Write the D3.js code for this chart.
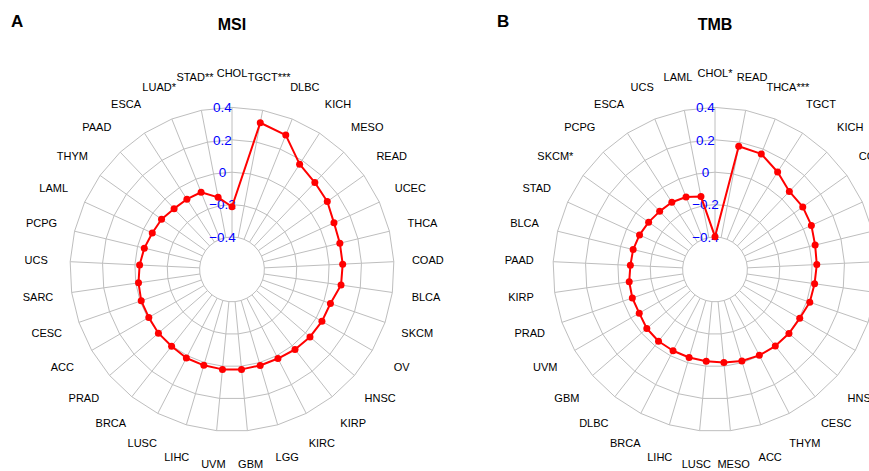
<!DOCTYPE html>
<html>
<head>
<meta charset="utf-8">
<script src="https://cdn.jsdelivr.net/npm/d3@7"></script>
<style>
  html, body { margin: 0; padding: 0; background: #fff; }
  svg { display: block; font-family: "Liberation Sans", Arial, Helvetica, sans-serif; }
</style>
</head>
<body>
<svg id="chart" width="869" height="471"></svg>
<script>
// Correlation of gene expression with MSI and TMB across TCGA cancer types
const msiCategories = ["CHOL", "TGCT***", "DLBC", "KICH", "MESO", "READ", "UCEC", "THCA", "COAD",
  "BLCA", "SKCM", "OV", "HNSC", "KIRP", "KIRC", "LGG", "GBM", "UVM", "LIHC", "LUSC", "BRCA",
  "PRAD", "ACC", "CESC", "SARC", "UCS", "PCPG", "LAML", "THYM", "PAAD", "ESCA", "LUAD*", "STAD**"];
const msiValues = [-0.213, 0.322, 0.293, 0.172, 0.141, 0.122, 0.092, 0.085, 0.084,
  0.080, 0.043, 0.041, 0.037, 0.029, 0.019, 0.018, 0.020, 0.020, 0.017, 0.015, 0.003,
  0.001, -0.007, -0.007, -0.017, -0.029, -0.043, -0.059, -0.066, -0.082, -0.085, -0.087, -0.147];

const tmbCategories = ["CHOL*", "READ", "THCA***", "TGCT", "KICH", "COAD", "UCEC", "LUAD",
  "SARC", "OV", "LGG", "KIRC", "HNSC", "CESC", "THYM", "ACC", "MESO", "LUSC", "LIHC", "BRCA",
  "DLBC", "GBM", "UVM", "PRAD", "KIRP", "PAAD", "BLCA", "STAD", "SKCM*", "PCPG", "ESCA", "UCS", "LAML"];
const tmbValues = [-0.398, 0.174, 0.168, 0.115, 0.065, 0.065, 0.054, 0.036,
  0.029, 0.021, 0.019, 0.004, 0.004, 0.002, -0.003, -0.011, -0.022, -0.031, -0.033, -0.035,
  -0.036, -0.043, -0.060, -0.060, -0.065, -0.077, -0.080, -0.088, -0.097, -0.105, -0.107, -0.119, -0.142];

const tickValues = [-0.4, -0.2, 0, 0.2, 0.4];
const tickLabels = ["\u22120.4", "\u22120.2", "0", "0.2", "0.4"];

const panels = [
  { letter: "A", title: "MSI", cats: msiCategories, vals: msiValues, cx: 232, letterX: 11 },
  { letter: "B", title: "TMB", cats: tmbCategories, vals: tmbValues, cx: 715, letterX: 497 }
];

const svg = d3.select("#chart");
const cy = 269.4;
const outerR = 162;
const labelR = 196;

// radial value scale: the innermost ring (-0.4) sits a step away from the centre
const rScale = d3.scaleLinear().domain([-0.6, 0.4]).range([0, outerR]);

panels.forEach(p => {
  const n = p.cats.length;
  const aScale = d3.scaleLinear().domain([0, n]).range([0, 2 * Math.PI]);
  const pt = (i, r) => [Math.sin(aScale(i)) * r, -Math.cos(aScale(i)) * r];

  const g = svg.append("g").attr("transform", `translate(${p.cx},${cy})`);

  // panel letter and title
  svg.append("text").attr("x", p.letterX).attr("y", 27)
    .attr("font-size", 17).attr("font-weight", "bold").text(p.letter);
  svg.append("text").attr("x", p.cx).attr("y", 29.5).attr("text-anchor", "middle")
    .attr("font-size", 16).attr("font-weight", "bold").text(p.title);

  // polygonal grid rings
  const ringLine = d3.lineRadial().angle((d, i) => aScale(i)).curve(d3.curveLinearClosed);
  g.selectAll("path.ring").data(tickValues).join("path")
    .attr("class", "ring")
    .attr("d", v => ringLine.radius(rScale(v))(d3.range(n)))
    .attr("fill", "none").attr("stroke", "#bebebe").attr("stroke-width", 1);

  // spokes
  g.selectAll("line.spoke").data(d3.range(n)).join("line")
    .attr("class", "spoke")
    .attr("x1", i => pt(i, rScale(tickValues[0]))[0])
    .attr("y1", i => pt(i, rScale(tickValues[0]))[1])
    .attr("x2", i => pt(i, rScale(tickValues[tickValues.length - 1]))[0])
    .attr("y2", i => pt(i, rScale(tickValues[tickValues.length - 1]))[1])
    .attr("stroke", "#bebebe").attr("stroke-width", 1);

  // axis tick labels along the top spoke
  g.selectAll("text.tick").data(tickValues).join("text")
    .attr("class", "tick")
    .attr("x", -9.5)
    .attr("y", v => -rScale(v) + 4.8)
    .attr("text-anchor", "middle").attr("font-size", 13.5).attr("fill", "#0000ff")
    .text((v, i) => tickLabels[i]);

  // category labels
  g.selectAll("text.cat").data(p.cats).join("text")
    .attr("class", "cat")
    .attr("x", (d, i) => pt(i, labelR)[0])
    .attr("y", (d, i) => pt(i, labelR)[1])
    .attr("dy", "0.35em")
    .attr("text-anchor", "middle").attr("font-size", 11).attr("fill", "#000")
    .text(d => d);

  // data polygon
  const dataLine = d3.lineRadial()
    .angle((d, i) => aScale(i))
    .radius(d => rScale(d))
    .curve(d3.curveLinearClosed);
  g.append("path").attr("d", dataLine(p.vals))
    .attr("fill", "none").attr("stroke", "#ff0000").attr("stroke-width", 2)
    .attr("stroke-linejoin", "round");

  g.selectAll("circle.pt").data(p.vals).join("circle")
    .attr("class", "pt")
    .attr("cx", (d, i) => pt(i, rScale(d))[0])
    .attr("cy", (d, i) => pt(i, rScale(d))[1])
    .attr("r", 3.5).attr("fill", "#ff0000");
});
</script>
</body>
</html>
